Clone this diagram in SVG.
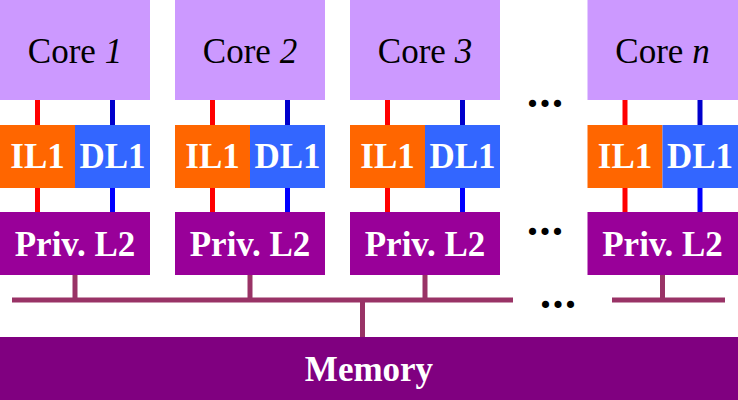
<svg xmlns="http://www.w3.org/2000/svg" width="738" height="400" viewBox="0 0 738 400">
<style>
.core{fill:#CC99FF}
.il1{fill:#FF6600}
.dl1{fill:#3366FF}
.l2{fill:#990099}
.ct{font-family:"Liberation Serif",serif;font-size:35px;fill:#000;text-anchor:middle}
.bt{font-family:"Liberation Serif",serif;font-size:35px;font-weight:bold;fill:#fff;text-anchor:middle}
.red{stroke:#FF0000;stroke-width:5}
.blue1{stroke:#0000CC;stroke-width:5}
.blue2{stroke:#0000FF;stroke-width:5}
.bus{stroke:#993366;stroke-width:5;fill:none}
.dots{font-family:"Liberation Serif",serif;font-size:44px;font-weight:bold;fill:#000;letter-spacing:1.5px}
</style>
<g id="connectors">
<line class="red" x1="37.5" y1="100" x2="37.5" y2="125"/>
<line class="blue1" x1="112.5" y1="100" x2="112.5" y2="125"/>
<line class="red" x1="37.5" y1="188" x2="37.5" y2="212"/>
<line class="blue2" x1="112.5" y1="188" x2="112.5" y2="212"/>
<line class="red" x1="212.5" y1="100" x2="212.5" y2="125"/>
<line class="blue1" x1="287.5" y1="100" x2="287.5" y2="125"/>
<line class="red" x1="212.5" y1="188" x2="212.5" y2="212"/>
<line class="blue2" x1="287.5" y1="188" x2="287.5" y2="212"/>
<line class="red" x1="387.5" y1="100" x2="387.5" y2="125"/>
<line class="blue1" x1="462.5" y1="100" x2="462.5" y2="125"/>
<line class="red" x1="387.5" y1="188" x2="387.5" y2="212"/>
<line class="blue2" x1="462.5" y1="188" x2="462.5" y2="212"/>
<line class="red" x1="625" y1="100" x2="625" y2="125"/>
<line class="blue1" x1="700" y1="100" x2="700" y2="125"/>
<line class="red" x1="625" y1="188" x2="625" y2="212"/>
<line class="blue2" x1="700" y1="188" x2="700" y2="212"/>
<line class="bus" x1="12" y1="300" x2="513" y2="300"/>
<line class="bus" x1="612" y1="300" x2="725" y2="300"/>
<line class="bus" x1="75" y1="275" x2="75" y2="300"/>
<line class="bus" x1="250" y1="275" x2="250" y2="300"/>
<line class="bus" x1="425" y1="275" x2="425" y2="300"/>
<line class="bus" x1="662.5" y1="275" x2="662.5" y2="300"/>
<line class="bus" x1="362.5" y1="300" x2="362.5" y2="337"/>
</g>
<g id="core1"><rect class="core" x="0" y="0" width="150" height="100"/><text class="ct" x="75" y="63">Core <tspan font-style="italic">1</tspan></text></g>
<g id="core2"><rect class="core" x="175" y="0" width="150" height="100"/><text class="ct" x="250" y="63">Core <tspan font-style="italic">2</tspan></text></g>
<g id="core3"><rect class="core" x="350" y="0" width="150" height="100"/><text class="ct" x="425" y="63">Core <tspan font-style="italic">3</tspan></text></g>
<g id="coren"><rect class="core" x="587.5" y="0" width="150.5" height="100"/><text class="ct" x="662.5" y="63">Core <tspan font-style="italic">n</tspan></text></g>
<g id="il1-1"><rect class="il1" x="0" y="125" width="75" height="63"/><text class="bt" x="37.5" y="168">IL1</text></g>
<g id="dl1-1"><rect class="dl1" x="75" y="125" width="75" height="63"/><text class="bt" x="112.5" y="168">DL1</text></g>
<g id="il1-2"><rect class="il1" x="175" y="125" width="75" height="63"/><text class="bt" x="212.5" y="168">IL1</text></g>
<g id="dl1-2"><rect class="dl1" x="250" y="125" width="75" height="63"/><text class="bt" x="287.5" y="168">DL1</text></g>
<g id="il1-3"><rect class="il1" x="350" y="125" width="75" height="63"/><text class="bt" x="387.5" y="168">IL1</text></g>
<g id="dl1-3"><rect class="dl1" x="425" y="125" width="75" height="63"/><text class="bt" x="462.5" y="168">DL1</text></g>
<g id="il1-n"><rect class="il1" x="587.5" y="125" width="75" height="63"/><text class="bt" x="625" y="168">IL1</text></g>
<g id="dl1-n"><rect class="dl1" x="662.5" y="125" width="75.5" height="63"/><text class="bt" x="700" y="168">DL1</text></g>
<g id="l2-1"><rect class="l2" x="0" y="212" width="150" height="63"/><text class="bt" x="75" y="256">Priv. L2</text></g>
<g id="l2-2"><rect class="l2" x="175" y="212" width="150" height="63"/><text class="bt" x="250" y="256">Priv. L2</text></g>
<g id="l2-3"><rect class="l2" x="350" y="212" width="150" height="63"/><text class="bt" x="425" y="256">Priv. L2</text></g>
<g id="l2-n"><rect class="l2" x="587.5" y="212" width="150.5" height="63"/><text class="bt" x="662.5" y="256">Priv. L2</text></g>
<g id="memory"><rect x="0" y="337" width="738" height="63" fill="#800080"/><text class="bt" x="369" y="381" font-size="34">Memory</text></g>
<g id="ellipses">
<text class="dots" x="527" y="107">...</text>
<text class="dots" x="527" y="235">...</text>
<text class="dots" x="540" y="308">...</text>
</g>
</svg>
